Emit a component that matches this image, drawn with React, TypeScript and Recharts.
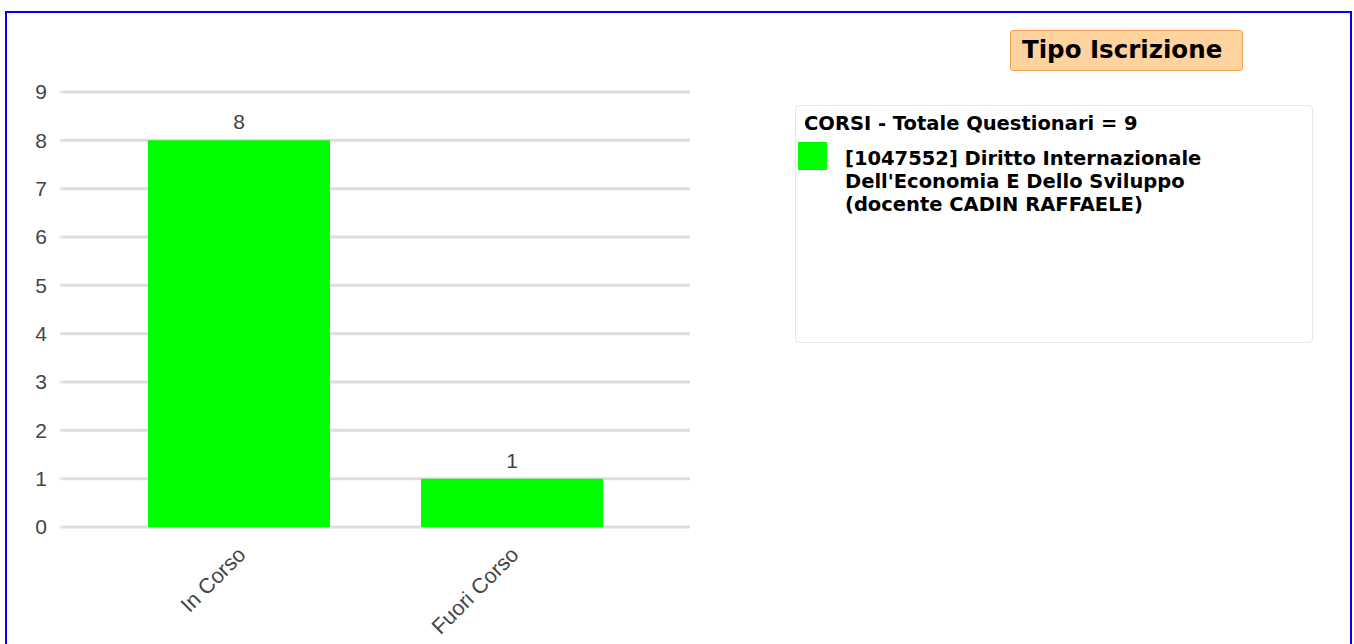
import React from "react";
import {
  BarChart,
  Bar,
  XAxis,
  YAxis,
  CartesianGrid,
  LabelList,
  Legend
} from "recharts";

const categories = ["In Corso", "Fuori Corso"];
const counts = [8, 1];
const yTicks = [0, 1, 2, 3, 4, 5, 6, 7, 8, 9];

const chartTitle = "Tipo Iscrizione";
const legendTitle = "CORSI - Totale Questionari = 9";
const seriesName =
  "[1047552] Diritto Internazionale Dell'Economia E Dello Sviluppo (docente CADIN RAFFAELE)";
const barColor = "#00ff00";

const data = categories.map((name, i) => ({ name, value: counts[i] }));

const BOLD_FONT = "'DejaVu Sans', sans-serif";
const AXIS_FONT = "'Liberation Sans', Arial, sans-serif";

function SlantTick(props: any) {
  const { x, y, payload } = props;
  return (
    <g transform={`translate(${x + 8},${y + 29})`}>
      <text
        textAnchor="end"
        transform="rotate(-45)"
        fill="#444"
        fontSize={21.5}
        fontFamily={AXIS_FONT}
      >
        {payload.value}
      </text>
    </g>
  );
}

function LegendBox({ payload }: any) {
  return (
    <div
      style={{
        boxSizing: "border-box",
        width: 518,
        height: 238,
        border: "1px solid #e6e6e6",
        borderRadius: 4,
        background: "#fff",
        fontFamily: BOLD_FONT,
        fontWeight: "bold",
        color: "#000",
        fontSize: 19.5,
        lineHeight: "23px",
        padding: "6px 0 0 2px"
      }}
    >
      <div style={{ paddingLeft: 6, marginBottom: 6 }}>{legendTitle}</div>
      {(payload || []).map((entry: any) => (
        <div key={entry.value} style={{ display: "flex", alignItems: "flex-start" }}>
          <span
            style={{
              display: "inline-block",
              width: 29,
              height: 28,
              marginTop: 1,
              background: entry.color,
              flex: "none"
            }}
          />
          <span style={{ marginLeft: 18, width: 372, marginTop: 6 }}>{entry.value}</span>
        </div>
      ))}
    </div>
  );
}

export default function App() {
  return (
    <div
      style={{
        position: "absolute",
        left: 0,
        top: 0,
        width: 1354,
        height: 644,
        overflow: "hidden",
        background: "#fff"
      }}
    >
      <div
        style={{
          position: "absolute",
          left: 5,
          top: 11,
          width: 1347,
          height: 700,
          boxSizing: "border-box",
          border: "2px solid #0000ff"
        }}
      />
      <div
        style={{
          position: "absolute",
          left: 1010,
          top: 30,
          width: 233,
          height: 41,
          boxSizing: "border-box",
          background: "#ffd39e",
          border: "1px solid #f5a24d",
          borderRadius: 3,
          fontFamily: BOLD_FONT,
          fontWeight: "bold",
          fontSize: 24.5,
          lineHeight: "38px",
          paddingLeft: 11,
          color: "#000"
        }}
      >
        {chartTitle}
      </div>
      <div style={{ position: "absolute", left: 0, top: 0 }}>
        <BarChart
          width={1354}
          height={644}
          data={data}
          margin={{ top: 92, right: 664, bottom: 0, left: 0 }}
          barCategoryGap={45.5}
        >
          <CartesianGrid vertical={false} stroke="#dddddd" strokeWidth={3} />
          <XAxis
            dataKey="name"
            height={117}
            axisLine={false}
            tickLine={false}
            tickSize={0}
            tickMargin={0}
            padding={{ left: 39.5, right: 41.5 }}
            interval={0}
            tick={<SlantTick />}
          />
          <YAxis
            width={63}
            domain={[0, 9]}
            ticks={yTicks}
            interval={0}
            axisLine={false}
            tickSize={3}
            tickMargin={13}
            tickLine={{ stroke: "#e6e6e6", strokeWidth: 3 }}
            tick={{ fill: "#444", fontSize: 21, fontFamily: AXIS_FONT }}
          />
          <Legend
            layout="horizontal"
            verticalAlign="middle"
            align="center"
            wrapperStyle={{ left: 795, top: 105, width: 518 }}
            content={<LegendBox />}
          />
          <Bar
            dataKey="value"
            name={seriesName}
            fill={barColor}
            isAnimationActive={false}
          >
            <LabelList
              dataKey="value"
              position="top"
              offset={11}
              fill="#444"
              fontSize={21}
              fontFamily={AXIS_FONT}
            />
          </Bar>
        </BarChart>
      </div>
    </div>
  );
}
